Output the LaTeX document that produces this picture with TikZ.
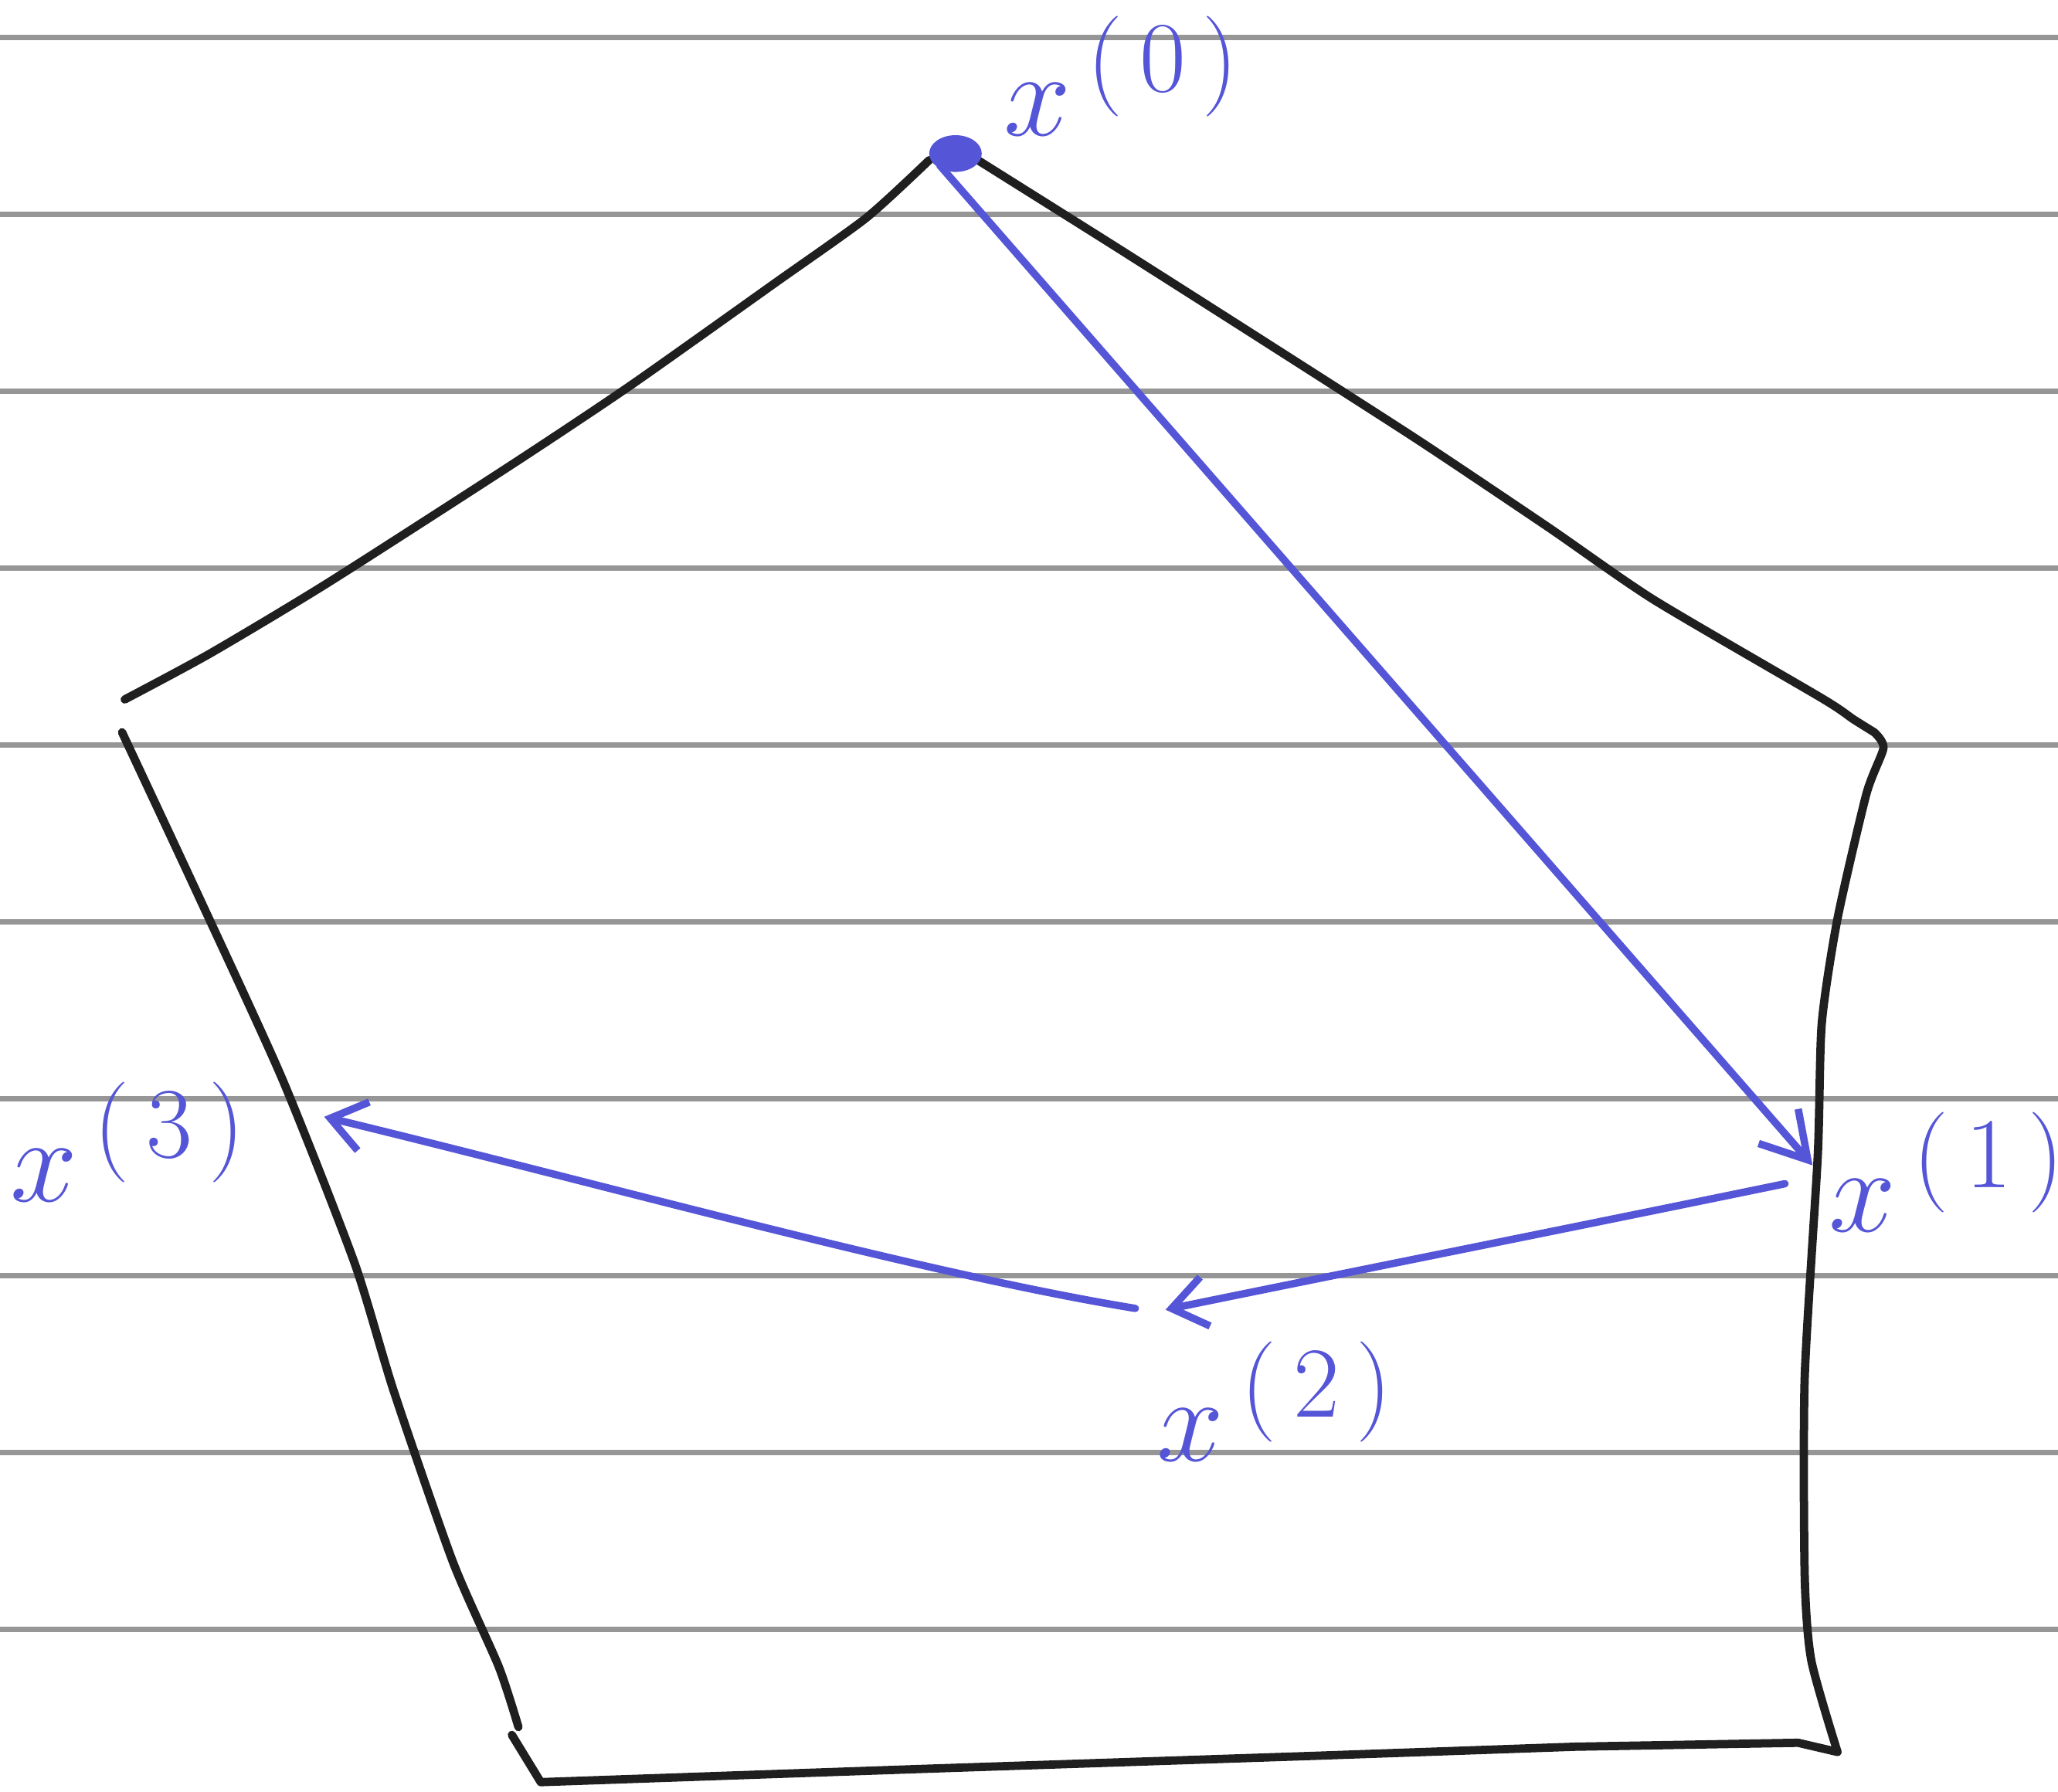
\documentclass[tikz,border=0pt]{standalone}
\usepackage{amsmath}
\usepackage{xcolor}
\usepackage{tikz}
\usetikzlibrary{arrows.meta, calc}
\definecolor{ink}{RGB}{85,85,215}
\definecolor{ruleg}{RGB}{150,150,150}
\tikzset{
  pen/.style={draw=black!88, line width=1.8pt, line cap=round, line join=round},
  bluepen/.style={draw=ink, line width=1.6pt, line cap=round, line join=round},
  arr/.style={bluepen, -{Straight Barb[length=2.6mm, width=3.8mm, line width=1.6pt]}},
  lbl/.style={text=ink, inner sep=0pt, font=\Huge, scale=1.05},
  rule/.style={draw=ruleg, line width=1.1pt},
}
\begin{document}
\begin{tikzpicture}[x=0.01cm, y=-0.01cm]
  \useasboundingbox (0,0) rectangle (1568,1365);
  % ruled paper
  \foreach \k in {0,...,9}
    \draw[rule] (0,{28.5+134.8*\k}) -- (1568,{28.5+134.8*\k});
  % pentagon, drawn by hand
  \draw[pen] plot[smooth, tension=0.4] coordinates {(708,122) (660,166) (590,216) (480,294) (390,354) (250,444) (160,498) (95,533)};
  \draw[pen] plot[smooth, tension=0.4] coordinates {(93,558) (150,680) (215,822) (270,962) (300,1060) (345,1190) (380,1270) (395,1316)};
  \draw[pen] (390,1322) -- (412,1358) -- (700,1348) -- (1000,1338) -- (1200,1331) -- (1370,1328) -- (1400,1335);
  \draw[pen] plot[smooth, tension=0.4] coordinates {(1400,1335) (1380,1265) (1375,1200) (1375,1050) (1385,880) (1388,780) (1400,700) (1422,605) (1435,570) (1428,558)};
  \draw[pen] plot[smooth, tension=0.4] coordinates {(1428,558) (1412,548) (1388,532) (1260,457) (1180,402) (1080,335) (960,258) (850,188) (745,122)};
  % iterates
  \coordinate (p0) at (716,126);
  \coordinate (p1) at (1381,888);
  \coordinate (p1s) at (1360,902);
  \coordinate (p2) at (888,998);
  \coordinate (p2s) at (865,997);
  \coordinate (p3) at (247,851);
  \fill[ink] (728,117) ellipse (20 and 14);
  \node[lbl] (x0) at (855,58) {$x^{\,(\,0\,)}$};
  \node[lbl] (x1) at (1484,893) {$x^{\,(\,1\,)}$};
  \node[lbl] (x2) at (972,1068) {$x^{\,(\,2\,)}$};
  \node[lbl] (x3) at (98,870) {$x^{\,(\,3\,)}$};
  \draw[arr, -{Straight Barb[length=3.4mm, width=4mm, line width=1.6pt]}] (p0) -- (p1);
  \draw[arr] (p1s) .. controls (1200,935) and (1000,975) .. (p2);
  \draw[arr] (p2s) .. controls (700,970) and (450,900) .. (p3);
\end{tikzpicture}
\end{document}
